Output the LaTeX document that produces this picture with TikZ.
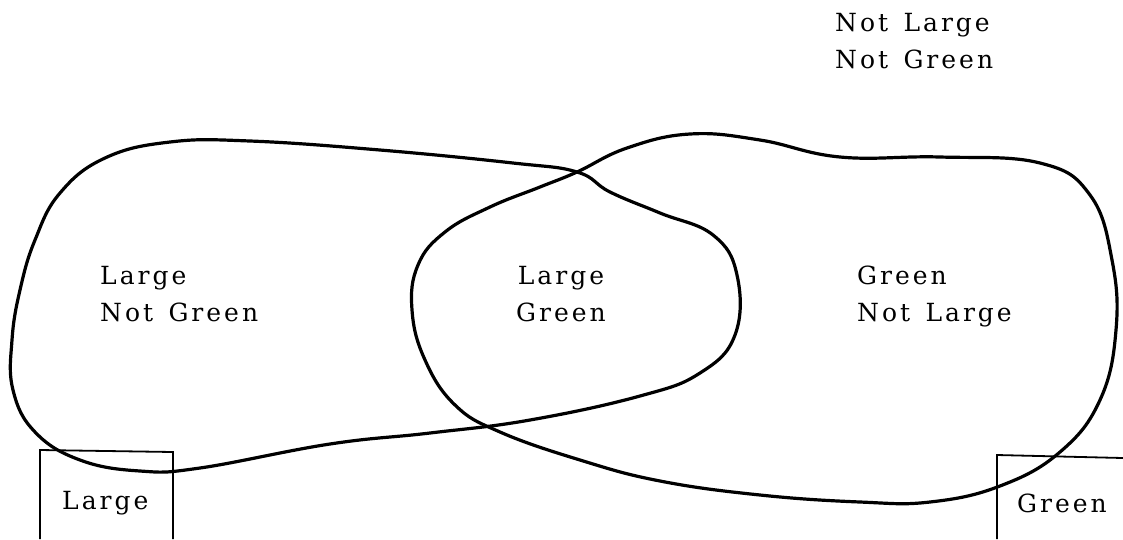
\documentclass[tikz,border=0pt]{standalone}
\usepackage{fontspec}
\setmainfont{DejaVu Serif}[LetterSpace=12,WordSpace=1.4]
\usetikzlibrary{positioning}
\tikzset{region/.style={font=\fontsize{25}{37}\selectfont,align=left,inner sep=0pt},
 loop/.style={line width=3.2pt,line join=round},
 tag/.style={line width=1.8pt}}

\begin{document}
\begin{tikzpicture}[x=1pt,y=-1pt]
 \useasboundingbox (0,0) rectangle (1123,539);
 \draw[loop] plot[smooth cycle,tension=0.7] coordinates {(577,172) (610,192) (660,213) (713,235) (737,275)
  (735,335) (700,373) (640,396) (530,420) (430,433) (330,444) (200,468) (140,471) (80,460) (35,432)
  (13,390) (12,340) (20,290) (35,240) (60,193) (105,158) (170,142) (250,141) (380,150) (513,163)};
 \draw[loop] plot[smooth cycle,tension=0.7] coordinates {(577,172) (627,148) (690,134) (760,140) (840,157)
  (940,157) (1040,163) (1090,195) (1112,260) (1116,330) (1100,400) (1060,452) (1000,486) (930,502)
  (860,502) (760,495) (660,481) (580,460) (500,432) (455,405) (425,360) (412,310) (418,265) (445,232)
  (490,207) (540,187)};
 \draw[tag] (40,539) -- (40,450) -- (173,452) -- (173,539);
 \draw[tag] (997,539) -- (997,455) -- (1123,458);
 \node[region,anchor=north west] (outside) at (835,13) {Not Large\\Not Green};
 \node[region,anchor=north west] (largeonly) at (100,266) {Large\\Not Green};
 \node[region,align=center,anchor=north] (both) at (561,266) {Large\\Green};
 \node[region,anchor=north west] (greenonly) at (857,266) {Green\\Not Large};
 \node[region,anchor=north west] (largetag) at (62,491) {Large};
 \node[region,anchor=north west] (greentag) at (1017,494) {Green};
\end{tikzpicture}
\end{document}
